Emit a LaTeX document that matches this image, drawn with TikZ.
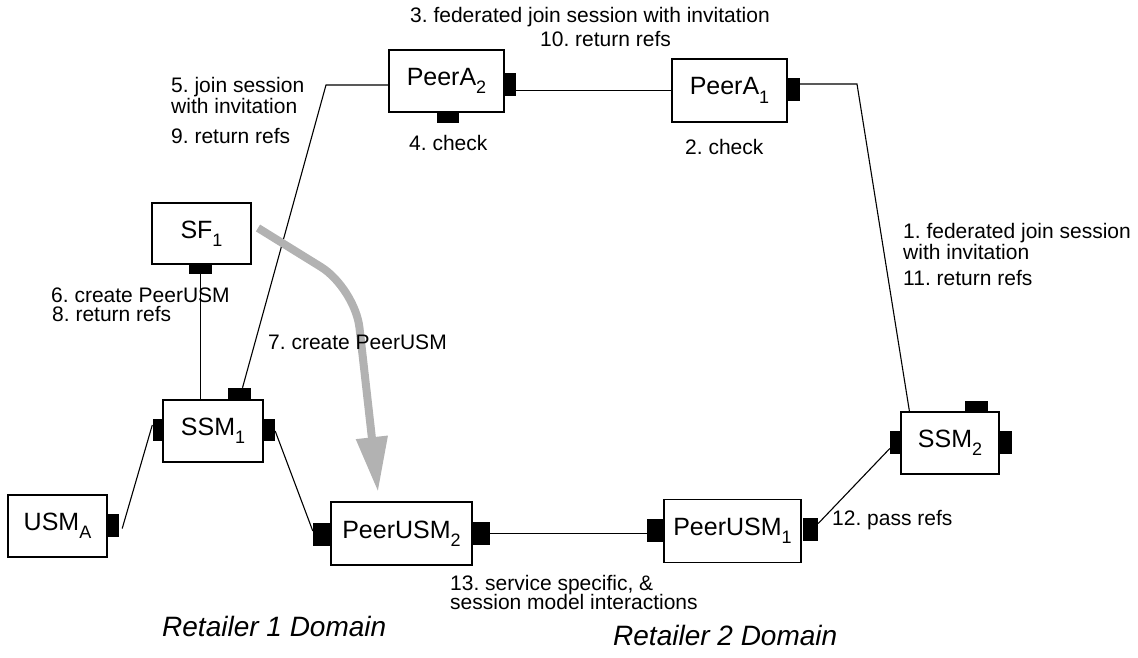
\documentclass[tikz,border=0pt]{standalone}
\usepackage{fontspec}
\setmainfont{Liberation Sans}
\usetikzlibrary{arrows.meta}
\definecolor{flowgray}{gray}{0.70}
% lowered index inside a box label
\newcommand\lowsub[1]{\raisebox{-0.33em}{\fontsize{18}{18}\selectfont #1}}
\frenchspacing

\begin{document}
\begin{tikzpicture}[x=1pt,y=-1pt,
  box/.style={draw, line width=1.1pt, inner sep=0pt, font=\fontsize{25}{28}\selectfont},
  port/.style={fill=black, draw=none, inner sep=0pt},
  wire/.style={line width=1.1pt},
  lbl/.style={inner sep=0pt, anchor=base west, font=\fontsize{21}{24}\selectfont},
  domcaption/.style={inner sep=0pt, anchor=base west, font=\fontsize{28}{32}\selectfont\itshape},
  flow/.style={line width=8pt, draw=flowgray, rounded corners=40pt,
    -{Triangle[width=30pt,length=55pt]}},
]
\useasboundingbox (0,0) rectangle (1138,658);

% components
\node[box, minimum width=115pt, minimum height=62pt] (PeerA2) at (446.5,81) {PeerA\lowsub{2}};
\node[box, minimum width=115pt, minimum height=63pt] (PeerA1) at (729.5,90.5) {PeerA\lowsub{1}};
\node[box, minimum width=99pt, minimum height=61pt] (SF1) at (201.5,233.5) {SF\lowsub{1}};
\node[box, minimum width=100pt, minimum height=62pt] (SSM1) at (213,431) {SSM\lowsub{1}};
\node[box, minimum width=99pt, minimum height=62pt] (USMA) at (57.5,526) {USM\lowsub{A}};
\node[box, minimum width=141pt, minimum height=63pt] (PeerUSM2) at (401.5,533.5) {PeerUSM\lowsub{2}};
\node[box, minimum width=137pt, minimum height=63pt] (PeerUSM1) at (732.5,531) {PeerUSM\lowsub{1}};
\node[box, minimum width=98pt, minimum height=62pt] (SSM2) at (950,443) {SSM\lowsub{2}};

% interface ports
\node[port, minimum width=12pt, minimum height=23pt] (pA2r) at (510,84.5) {};
\node[port, minimum width=22pt, minimum height=11pt] (pA2b) at (448,117.5) {};
\node[port, minimum width=12pt, minimum height=23pt] (pA1r) at (794,90) {};
\node[port, minimum width=23pt, minimum height=10pt] (pSF1b) at (200.5,269) {};
\node[port, minimum width=11pt, minimum height=22pt] (pS1l) at (158,430) {};
\node[port, minimum width=12pt, minimum height=22pt] (pS1r) at (269,430) {};
\node[port, minimum width=23pt, minimum height=11pt] (pS1t) at (239.5,393.5) {};
\node[port, minimum width=11pt, minimum height=23pt] (pUAr) at (113.5,525.5) {};
\node[port, minimum width=17pt, minimum height=23pt] (pPU2l) at (321.5,534.5) {};
\node[port, minimum width=17pt, minimum height=23pt] (pPU2r) at (481,533.5) {};
\node[port, minimum width=16pt, minimum height=23pt] (pPU1l) at (655,530.5) {};
\node[port, minimum width=15pt, minimum height=23pt] (pPU1r) at (810.5,529.5) {};
\node[port, minimum width=11pt, minimum height=23pt] (pS2l) at (895.5,442.5) {};
\node[port, minimum width=13pt, minimum height=23pt] (pS2r) at (1005.5,442.5) {};
\node[port, minimum width=23pt, minimum height=11pt] (pS2t) at (976.5,406.5) {};

% bends of the long connectors
\coordinate (k1) at (857,84);
\coordinate (k2) at (326,85);

% connectors
\draw[wire] (pA2r.east |- PeerA1.west) -- (PeerA1.west);
\draw[wire] ([yshift=6pt]pA1r.east) -- (k1) -- ([xshift=9pt]SSM2.north west);
\draw[wire] ([yshift=-4pt]PeerA2.west) -- (k2) -- ([xshift=3pt]pS1t.north);
\draw[wire] (pSF1b.south) -- (pSF1b.south |- SSM1.north);
\draw[wire] ([xshift=3pt,yshift=-3pt]pUAr.east) -- ([yshift=5pt]pS1l.west);
\draw[wire] ([yshift=-1pt]pS1r.east) -- ([yshift=3.5pt]pPU2l.west);
\draw[wire] (pPU2r.east) -- (pPU1l.west |- pPU2r.east);
\draw[wire] ([yshift=6pt]pPU1r.east) -- ([yshift=-6pt]pS2l.west);

% creation flow
\coordinate (g0) at (258,228);
\coordinate (gc) at (355,288);
\coordinate (g1) at (378,492);
\draw[flow] (g0) -- (gc) -- (g1);

% message labels
\node[lbl] (t3) at (410,23) {3. federated join session with invitation};
\node[lbl] (t10) at (540,47) {10. return refs};
\node[lbl] (t5a) at (171,93) {5. join session};
\node[lbl] (t5b) at (171,114) {with invitation};
\node[lbl] (t9) at (171,143) {9. return refs};
\node[lbl] (t4) at (409,150) {4. check};
\node[lbl] (t2) at (685,155) {2. check};
\node[lbl] (t6) at (51,302) {6. create PeerUSM};
\node[lbl] (t8) at (52,321) {8. return refs};
\node[lbl] (t7) at (268,349) {7. create PeerUSM};
\node[lbl] (t1a) at (903,238) {1. federated join session};
\node[lbl] (t1b) at (903,259) {with invitation};
\node[lbl] (t11) at (903,285) {11. return refs};
\node[lbl] (t12) at (832,525) {12. pass refs};
\node[lbl] (t13a) at (450,590) {13. service specific, \&};
\node[lbl] (t13b) at (450,609) {session model interactions};

% domain captions
\node[domcaption] (d1) at (162,636) {Retailer 1 Domain};
\node[domcaption] (d2) at (613,645) {Retailer 2 Domain};
\end{tikzpicture}
\end{document}
